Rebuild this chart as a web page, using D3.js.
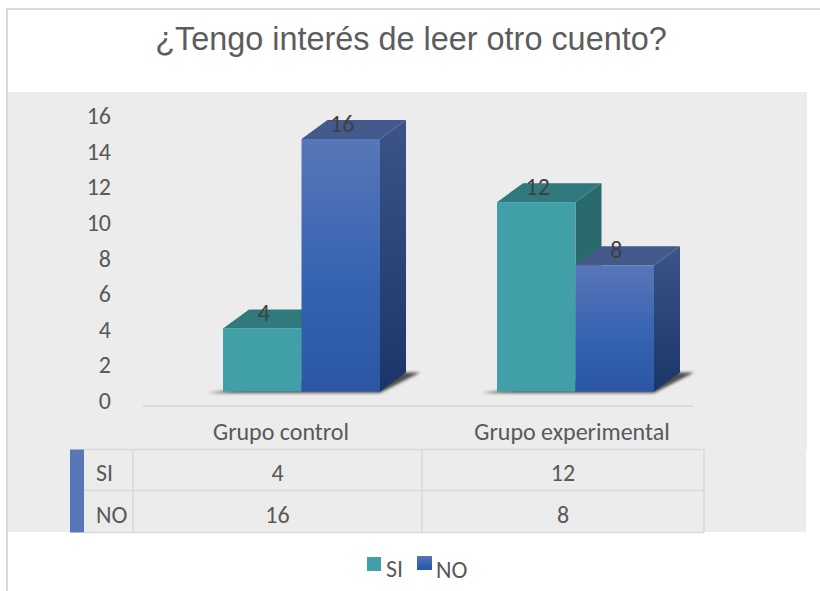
<!DOCTYPE html>
<html>
<head>
<meta charset="utf-8">
<script src="https://cdn.jsdelivr.net/npm/d3@7"></script>
<style>
    html, body { margin: 0; padding: 0; background: #fff; }
    svg { display: block; }
    text { font-family: Carlito, "Open Sans", "Noto Sans", sans-serif; fill: #595959; }
</style>
</head>
<body>
<svg id="chart" width="820" height="591"></svg>
<script>
const title = '¿Tengo interés de leer otro cuento?';
const categories = ['Grupo control', 'Grupo experimental'];
const seriesNames = ['SI', 'NO'];
const siValues = [4, 12];
const noValues = [16, 8];
const tickValues = [0, 2, 4, 6, 8, 10, 12, 14, 16];

const svg = d3.select('#chart');
const defs = svg.append('defs');
const FONT = '24px';

// Blue front face gradient
const blue = defs.append('linearGradient').attr('id', 'blueFront')
    .attr('x1', 0).attr('y1', 0).attr('x2', 0).attr('y2', 1);
blue.append('stop').attr('offset', '0%').attr('stop-color', '#5876b8');
blue.append('stop').attr('offset', '60%').attr('stop-color', '#3462b1');
blue.append('stop').attr('offset', '100%').attr('stop-color', '#2a56a5');

const blueSide = defs.append('linearGradient').attr('id', 'blueSide')
    .attr('x1', 0).attr('y1', 0).attr('x2', 0).attr('y2', 1);
blueSide.append('stop').attr('offset', '0%').attr('stop-color', '#3c5488');
blueSide.append('stop').attr('offset', '100%').attr('stop-color', '#1a3669');

defs.append('filter').attr('id', 'blur').append('feGaussianBlur').attr('stdDeviation', 1.5);

// Frame and grey panel
svg.append('rect').attr('x', 7).attr('y', 9).attr('width', 830).attr('height', 600)
    .attr('fill', '#fff').attr('stroke', '#d9d9d9').attr('stroke-width', 2);
svg.append('rect').attr('x', 8).attr('y', 92).attr('width', 799).attr('height', 358).attr('fill', '#ececec');
svg.append('rect').attr('x', 8).attr('y', 449).attr('width', 798).attr('height', 83).attr('fill', '#ececec');

svg.append('text').attr('x', 411).attr('y', 50).attr('text-anchor', 'middle')
    .style('font-family', '"Liberation Sans", Arial, sans-serif')
    .style('font-size', '32.4px').style('fill', '#5c5c5c').text(title);

// Scales: bars sit on a floor above the axis, so the tick labels have their own scale
const yBar = d3.scaleLinear().domain([0, 16]).range([391.5, 139]);
const yTick = d3.scaleLinear().domain([0, 16]).range([409, 124]);
const barWidth = 78.5;
const depthX = 26, depthY = 19;

const groupLeft = { 'Grupo control': 223, 'Grupo experimental': 497 };

// Axis labels
svg.append('g').selectAll('text').data(tickValues).join('text')
    .attr('x', 111).attr('y', d => yTick(d))
    .attr('text-anchor', 'end').style('font-size', FONT).text(d => d);

svg.append('line').attr('x1', 143).attr('x2', 693).attr('y1', 406).attr('y2', 406)
    .attr('stroke', '#d9d9d9').attr('stroke-width', 2);

svg.append('g').selectAll('text').data(categories).join('text')
    .attr('x', (d, i) => i === 0 ? 281 : 572).attr('y', 440)
    .attr('text-anchor', 'middle').style('font-size', FONT).text(d => d);

// 3D bars
const colors = [
    { front: '#41a0a7', top: '#307a7e', side: '#2a6a6c', value: siValues },
    { front: 'url(#blueFront)', top: '#445a8c', side: 'url(#blueSide)', value: noValues }
];

const barsG = svg.append('g');
categories.forEach((cat, c) => {
    const x0 = groupLeft[cat];
    const floor = yBar(0);
    // floor shadow
    barsG.append('path')
        .attr('d', `M${x0 - 15},${floor + 1.5} L${x0 + 2 * barWidth},${floor + 1.5} L${x0 + 2 * barWidth + depthX + 14},${floor - depthY} L${x0 + 2 * barWidth},${floor - depthY} Z`)
        .attr('fill', '#333').attr('opacity', 0.85).attr('filter', 'url(#blur)');

    colors.forEach((s, i) => {
        const x = x0 + i * barWidth;
        const yTop = yBar(s.value[c]);
        const g = barsG.append('g');
        g.append('path')
            .attr('d', `M${x + barWidth},${yTop} l${depthX},${-depthY} V${floor - depthY} L${x + barWidth},${floor} Z`)
            .attr('fill', s.side);
        g.append('path')
            .attr('d', `M${x},${yTop} l${depthX},${-depthY} h${barWidth} l${-depthX},${depthY} Z`)
            .attr('fill', s.top);
        g.append('rect').attr('x', x).attr('y', yTop).attr('width', barWidth).attr('height', floor - yTop)
            .attr('fill', s.front);
    });
});

// Data labels
const labelG = svg.append('g');
categories.forEach((cat, c) => {
    colors.forEach((s, i) => {
        labelG.append('text')
            .attr('x', groupLeft[cat] + i * barWidth + barWidth / 2 + 1.5)
            .attr('y', yBar(s.value[c]) - 7)
            .attr('text-anchor', 'middle').style('font-size', FONT)
            .style('fill', '#404040').text(s.value[c]);
    });
});

// Data table
const colX = [84, 133, 422, 704];
const rowY = [449.5, 490.5, 532.5];
const rowBase = [481, 523];
const tableG = svg.append('g');
tableG.append('rect').attr('x', 70).attr('y', rowY[0]).attr('width', 14).attr('height', rowY[2] - rowY[0])
    .attr('fill', '#5876b8');
rowY.forEach(y => tableG.append('line').attr('x1', 84).attr('x2', colX[3]).attr('y1', y).attr('y2', y)
    .attr('stroke', '#d9d9d9').attr('stroke-width', 1.5));
colX.slice(1).forEach(x => tableG.append('line').attr('x1', x).attr('x2', x).attr('y1', rowY[0]).attr('y2', rowY[2])
    .attr('stroke', '#d9d9d9').attr('stroke-width', 1.5));

[siValues, noValues].forEach((vals, r) => {
    tableG.append('text').attr('x', 96).attr('y', rowBase[r]).style('font-size', FONT).text(seriesNames[r]);
    vals.forEach((v, c) => {
        tableG.append('text').attr('x', (colX[c + 1] + colX[c + 2]) / 2).attr('y', rowBase[r])
            .attr('text-anchor', 'middle').style('font-size', FONT).text(v);
    });
});

// Legend
const legendG = svg.append('g');
legendG.append('rect').attr('x', 367).attr('y', 557).attr('width', 14).attr('height', 14).attr('fill', '#41a0a7');
legendG.append('text').attr('x', 386).attr('y', 577).style('font-size', FONT).text(seriesNames[0]);
legendG.append('rect').attr('x', 417).attr('y', 556).attr('width', 15).attr('height', 14).attr('fill', 'url(#blueFront)');
legendG.append('text').attr('x', 436).attr('y', 578).style('font-size', FONT).text(seriesNames[1]);
</script>
</body>
</html>
